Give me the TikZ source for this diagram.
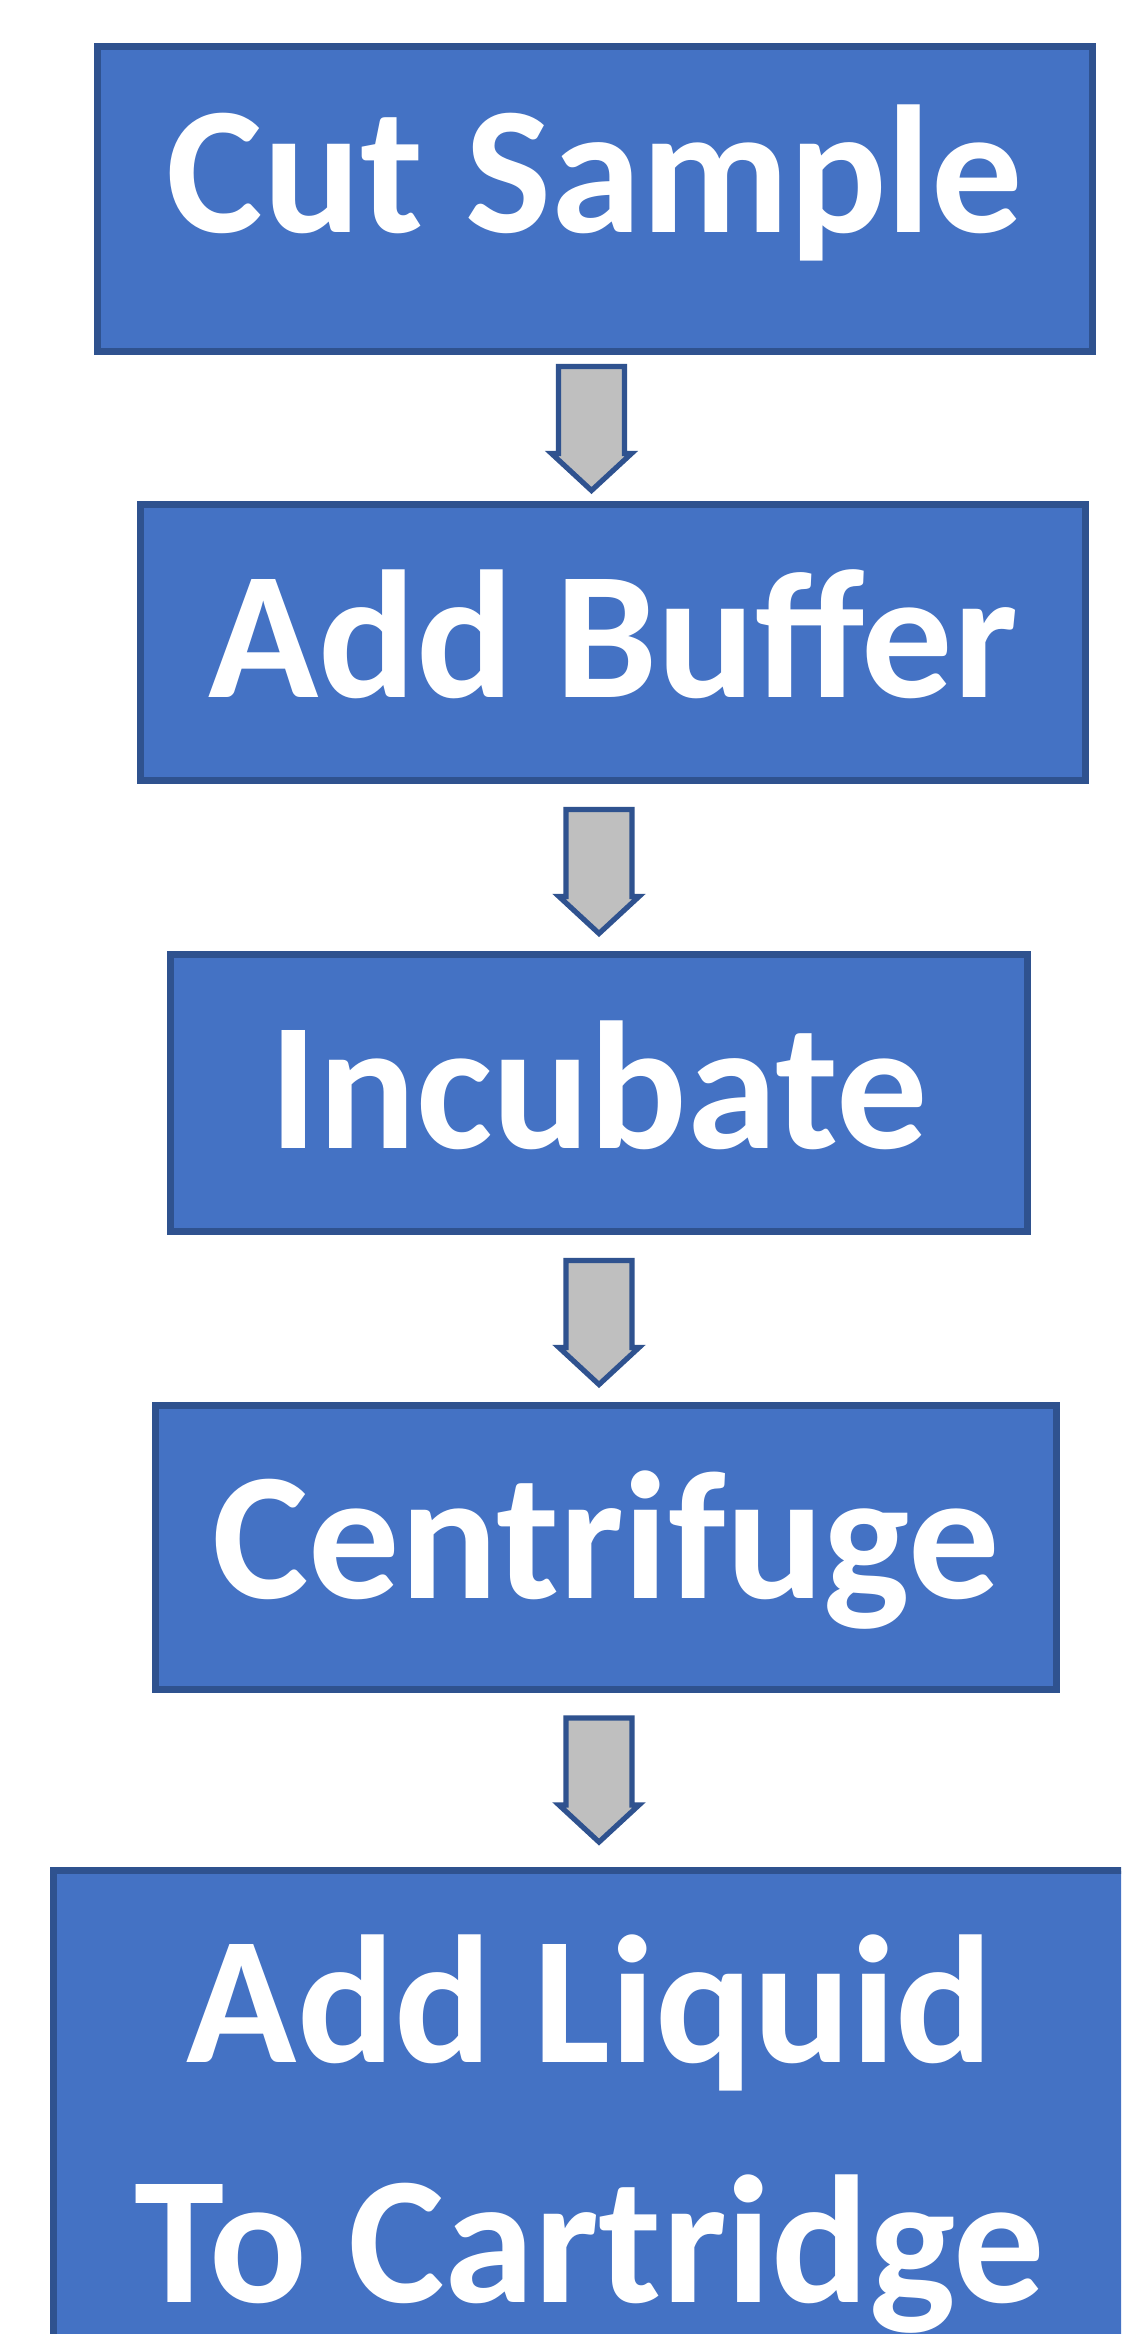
\documentclass[tikz,border=0pt]{standalone}
\usepackage{fontspec}
\setmainfont{Carlito}
\definecolor{boxfill}{HTML}{4472C4}
\definecolor{boxline}{HTML}{2F528F}
\definecolor{arrfill}{HTML}{BFBFBF}
\tikzset{
  stepbox/.style={draw=boxline, fill=boxfill, line width=3.5pt, inner sep=0pt,
    text=white, font=\fontsize{91}{120}\selectfont\bfseries, text depth=0pt},
  txt/.style={text=white, font=\fontsize{91}{120}\selectfont\bfseries, inner sep=0pt},
  blockarrow/.style={draw=boxline, fill=arrfill, line width=2.6pt, line join=miter},
  downarr/.pic={\path[blockarrow] (-33,0) -- (33,0) -- (33,87) -- (40,87) -- (0,124) -- (-40,87) -- (-33,87) -- cycle;}
}
\begin{document}
\begin{tikzpicture}[x=0.5pt,y=-0.5pt]
\useasboundingbox (0,0) rectangle (1121,2334);
\clip (0,0) rectangle (1121,2334);
\fill[white] (0,0) rectangle (1121,2334);
\node[stepbox, minimum width=497.5pt, minimum height=152.5pt, text height=33pt] (b1) at (595,199) {Cut Sample};
\node[stepbox, minimum width=472.5pt, minimum height=138pt, text height=54.5pt] (b2) at (613,642.5) {Add Buffer};
\node[stepbox, minimum width=428.5pt, minimum height=138.5pt, text height=55pt] (b3) at (599,1093) {Incubate};
\node[stepbox, minimum width=450.5pt, minimum height=142pt, text height=50.5pt] (b4) at (606,1547.5) {Centrifuge};
\node[stepbox, minimum width=536.5pt, minimum height=273pt] (b5) at (590,2143.5) {};
\node[txt, align=center, anchor=base] (t5) at (590,2302) {Add Liquid\\To Cartridge};
\pic (a1) at (591.5,366.5) {downarr};
\pic (a2) at (599,809.5) {downarr};
\pic (a3) at (599,1260.5) {downarr};
\pic (a4) at (599,1718) {downarr};
\end{tikzpicture}
\end{document}
